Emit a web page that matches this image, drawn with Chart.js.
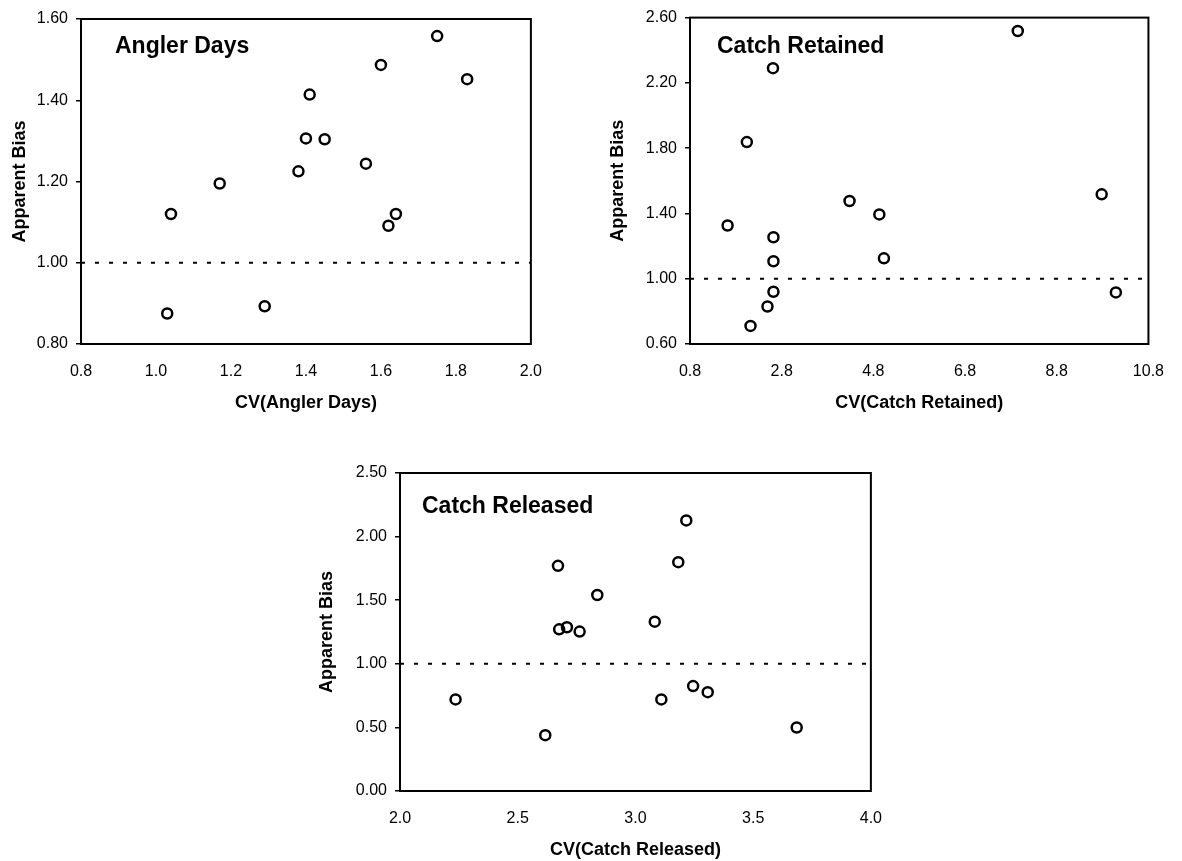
<!DOCTYPE html>
<html>
<head>
<meta charset="utf-8">
<title>Apparent Bias vs CV</title>
<script src="https://cdn.jsdelivr.net/npm/chart.js@4.4.0/dist/chart.umd.min.js"></script>
<style>
    html, body { margin: 0; padding: 0; background: #fff; overflow: hidden; }
    .panel { position: absolute; }
    .panel canvas { display: block; }
</style>
</head>
<body>
<div class="panel" style="left:0;top:0"><canvas id="anglerChart" width="560" height="414"></canvas></div>
<div class="panel" style="left:600px;top:0"><canvas id="retainedChart" width="582" height="414"></canvas></div>
<div class="panel" style="left:300px;top:430px"><canvas id="releasedChart" width="600" height="431"></canvas></div>

<script>
// Angler Days
const anglerCV   = [1.03, 1.04, 1.17, 1.29, 1.38, 1.40, 1.41, 1.45, 1.56, 1.60, 1.62, 1.64, 1.75, 1.83];
const anglerBias = [0.875, 1.12, 1.195, 0.893, 1.225, 1.306, 1.414, 1.304, 1.244, 1.487, 1.091, 1.12, 1.558, 1.452];
const anglerXTicks = [0.8, 1.0, 1.2, 1.4, 1.6, 1.8, 2.0];
const anglerYTicks = [0.80, 1.00, 1.20, 1.40, 1.60];

// Catch Retained
const retainedCV   = [1.62, 2.04, 2.12, 2.49, 2.61, 2.62, 2.62, 2.62, 4.28, 4.93, 5.03, 7.95, 9.78, 10.09];
const retainedBias = [1.326, 1.837, 0.711, 0.830, 2.290, 1.254, 1.107, 0.920, 1.476, 1.394, 1.125, 2.518, 1.517, 0.916];
const retainedXTicks = [0.8, 2.8, 4.8, 6.8, 8.8, 10.8];
const retainedYTicks = [0.60, 1.00, 1.40, 1.80, 2.20, 2.60];

// Catch Released
const releasedCV   = [2.236, 2.617, 2.671, 2.676, 2.709, 2.763, 2.838, 3.082, 3.110, 3.182, 3.216, 3.245, 3.307, 3.685];
const releasedBias = [0.720, 0.439, 1.770, 1.271, 1.287, 1.253, 1.541, 1.331, 0.720, 1.799, 2.127, 0.825, 0.777, 0.499];
const releasedXTicks = [2.0, 2.5, 3.0, 3.5, 4.0];
const releasedYTicks = [0.00, 0.50, 1.00, 1.50, 2.00, 2.50];

// no bias reference line
const noBias = 1.0;

Chart.defaults.font.family = "'Liberation Sans', Arial, sans-serif";
Chart.defaults.color = '#000';

// box around the plot area
const framePlugin = {
    id: 'frame',
    afterDatasetsDraw(chart) {
        const { ctx, chartArea: { left, top, width, height } } = chart;
        ctx.save();
        ctx.strokeStyle = '#000';
        ctx.lineWidth = 2;
        ctx.strokeRect(left, top, width, height);
        ctx.restore();
    }
};

// panel name written inside the plot
const panelLabel = {
    id: 'panelLabel',
    afterDraw(chart, args, opts) {
        const { ctx, chartArea: { left, top } } = chart;
        ctx.save();
        ctx.font = "bold 23px 'Liberation Sans', Arial, sans-serif";
        ctx.fillStyle = '#000';
        ctx.textBaseline = 'alphabetic';
        ctx.fillText(opts.text, left + opts.dx, top + opts.dy);
        ctx.restore();
    }
};

function makeChart(id, cv, bias, xTicks, yTicks, xDec, xTitle, label, box) {
    const points = cv.map((v, i) => ({ x: v, y: bias[i] }));
    const xMin = xTicks[0], xMax = xTicks[xTicks.length - 1];
    return new Chart(document.getElementById(id), {
        type: 'scatter',
        data: {
            datasets: [{
                data: points,
                pointStyle: 'circle',
                pointRadius: 5,
                pointBorderWidth: 2.5,
                pointBorderColor: '#000',
                pointBackgroundColor: 'rgba(0,0,0,0)'
            }, {
                type: 'line',
                data: [{ x: xMin, y: noBias }, { x: xMax, y: noBias }],
                borderColor: '#000',
                borderWidth: 2,
                borderDash: [4, 10],
                pointRadius: 0,
                fill: false
            }]
        },
        options: {
            responsive: false,
            animation: false,
            layout: { padding: { left: box.padLeft, top: box.padTop, right: box.padRight, bottom: 0 } },
            plugins: {
                legend: { display: false },
                tooltip: { enabled: false },
                panelLabel: { text: label, dx: box.labelDx, dy: box.labelDy }
            },
            scales: {
                x: {
                    type: 'linear',
                    min: xMin,
                    max: xMax,
                    afterBuildTicks: s => { s.ticks = xTicks.map(v => ({ value: v })); },
                    afterFit: s => { s.height = box.xHeight; },
                    grid: { display: false, drawTicks: false },
                    border: { display: false },
                    ticks: { padding: 18, font: { size: 16 }, callback: v => v.toFixed(xDec) },
                    title: { display: true, text: xTitle, padding: 0, font: { size: 18, weight: 'bold' } }
                },
                y: {
                    type: 'linear',
                    min: yTicks[0],
                    max: yTicks[yTicks.length - 1],
                    afterBuildTicks: s => { s.ticks = yTicks.map(v => ({ value: v })); },
                    afterFit: s => { s.width = box.yWidth; },
                    grid: { drawOnChartArea: false, drawTicks: true, tickLength: 5, color: '#000', lineWidth: 1.5 },
                    border: { display: false },
                    ticks: { padding: 8, font: { size: 16 }, callback: v => v.toFixed(2) },
                    title: { display: true, text: 'Apparent Bias', padding: 0, font: { size: 18, weight: 'bold' } }
                }
            }
        },
        plugins: [framePlugin, panelLabel]
    });
}

makeChart('anglerChart', anglerCV, anglerBias, anglerXTicks, anglerYTicks, 1,
    'CV(Angler Days)', 'Angler Days',
    { padLeft: 9, padTop: 19, padRight: 23, yWidth: 72, xHeight: 70, labelDx: 34, labelDy: 34 });

makeChart('retainedChart', retainedCV, retainedBias, retainedXTicks, retainedYTicks, 1,
    'CV(Catch Retained)', 'Catch Retained',
    { padLeft: 7, padTop: 17, padRight: 23, yWidth: 83, xHeight: 70, labelDx: 27, labelDy: 35 });

makeChart('releasedChart', releasedCV, releasedBias, releasedXTicks, releasedYTicks, 1,
    'CV(Catch Released)', 'Catch Released',
    { padLeft: 16, padTop: 43, padRight: 24, yWidth: 84, xHeight: 70, labelDx: 22, labelDy: 40 });
</script>
</body>
</html>
